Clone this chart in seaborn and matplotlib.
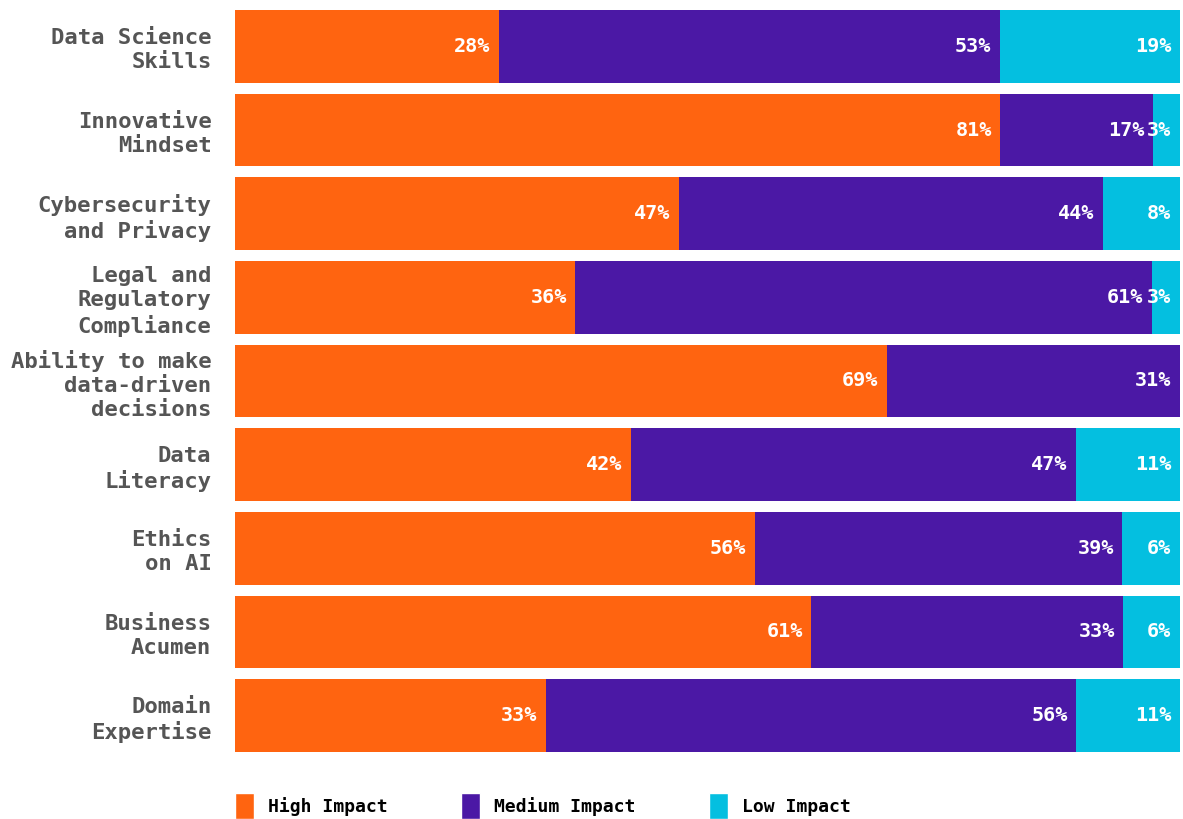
import pandas as pd
import matplotlib.pyplot as plt
import seaborn as sns
from matplotlib.patches import Patch

skills = ["Data Science\nSkills", "Innovative\nMindset", "Cybersecurity\nand Privacy",
          "Legal and\nRegulatory\nCompliance", "Ability to make\ndata-driven\ndecisions",
          "Data\nLiteracy", "Ethics\non AI", "Business\nAcumen", "Domain\nExpertise"]
# printed labels
high_lbl = [28, 81, 47, 36, 69, 42, 56, 61, 33]
medium_lbl = [53, 17, 44, 61, 31, 47, 39, 33, 56]
low_lbl = [19, 3, 8, 3, 0, 11, 6, 6, 11]
# segment shares as drawn (unrounded, each row fills 100)
high = [27.9, 81.0, 47.0, 36.0, 69.0, 41.9, 55.0, 61.0, 32.9]
medium = [53.0, 16.1, 44.8, 61.0, 31.0, 47.1, 38.9, 33.0, 56.1]
low = [19.1, 2.9, 8.2, 3.0, 0.0, 11.0, 6.1, 6.0, 11.0]

colors = {"High Impact": "#FF6410", "Medium Impact": "#4B18A5", "Low Impact": "#04BFE0"}

df = pd.DataFrame({"Skill": skills, "High": high, "Medium": medium, "Low": low})
df["HighMed"] = df["High"] + df["Medium"]
df["Total"] = df["HighMed"] + df["Low"]

sns.set_theme(style="white")
plt.rcParams["font.family"] = ["DejaVu Sans Mono"]

fig = plt.figure(figsize=(11.83, 8.19), dpi=100)
ax = fig.add_axes([235 / 1183, 1 - 752 / 819, (1180 - 235) / 1183, (752 - 10) / 819])

bw = 0.87
# stack by overdrawing: full row first, then high+medium, then high
for col, key in [("Total", "Low Impact"), ("HighMed", "Medium Impact"), ("High", "High Impact")]:
    sns.barplot(data=df, x=col, y="Skill", color=colors[key], width=bw,
                saturation=1, linewidth=0, edgecolor="none", ax=ax)

for i, row in df.iterrows():
    ends = [row["High"], row["HighMed"], row["Total"]]
    vals = [high_lbl[i], medium_lbl[i], low_lbl[i]]
    for end, val in zip(ends, vals):
        if val > 0:
            ax.text(end - 0.9, i, f"{val}%", ha="right", va="center", color="white",
                    fontsize=14.5, fontweight="bold")

ax.set_xlim(0, 100)
ax.set_ylim(len(skills) - 1 + bw / 2, -bw / 2)
ax.set_xlabel("")
ax.set_ylabel("")
ax.set_xticks([])
ax.tick_params(axis="y", length=0, pad=17)
for lbl in ax.get_yticklabels():
    lbl.set_fontsize(16)
    lbl.set_fontweight("bold")
    lbl.set_color("#555555")
    lbl.set_linespacing(1.25)
    lbl.set_multialignment("right")
sns.despine(ax=ax, left=True, bottom=True)

handles = [Patch(facecolor=c, label=k) for k, c in colors.items()]
fig.legend(handles=handles, loc="center left", bbox_to_anchor=(235 / 1183, 1 - 806 / 819),
           ncol=3, frameon=False, prop={"size": 13, "weight": "bold"},
           handlelength=1.05, handleheight=1.8, handletextpad=0.75, columnspacing=4.1,
           borderpad=0, borderaxespad=0, labelcolor="black")

fig.savefig("out.png", dpi=100)
